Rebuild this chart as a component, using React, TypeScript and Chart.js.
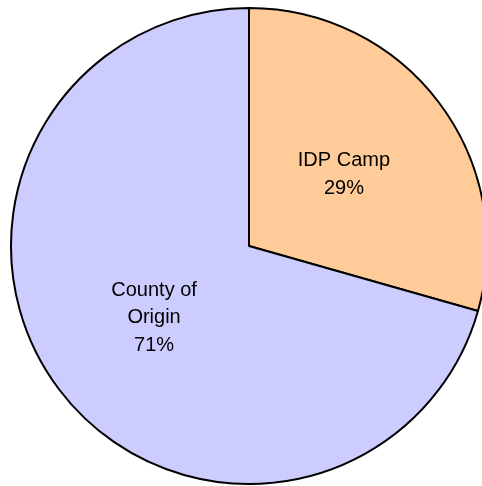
import React, { useEffect, useRef } from "react";
import { Chart, registerables } from "chart.js";

Chart.register(...registerables);

const categories: string[][] = [["IDP Camp"], ["County of", "Origin"]];
const values: number[] = [29.4, 70.6];
const percentLabels: string[] = ["29%", "71%"];
const colors: string[] = ["#FFCC99", "#CCCCFF"];

const labelPlugin = {
  id: "sliceLabels",
  afterDatasetsDraw(chart: any) {
    const ctx = chart.ctx;
    const meta = chart.getDatasetMeta(0);
    ctx.save();
    ctx.font = '20px "Liberation Sans", Arial, sans-serif';
    ctx.fillStyle = "#000000";
    ctx.textAlign = "center";
    ctx.textBaseline = "middle";
    const lh = 27.5;
    meta.data.forEach((arc: any, i: number) => {
      const pos = arc.tooltipPosition();
      const lines = [...categories[i], percentLabels[i]];
      const startY = pos.y - ((lines.length - 1) * lh) / 2;
      lines.forEach((t, j) => ctx.fillText(t, pos.x, startY + j * lh));
    });
    ctx.restore();
  },
};

export default function App() {
  const ref = useRef<HTMLCanvasElement>(null);
  useEffect(() => {
    if (!ref.current) return;
    const chart = new Chart(ref.current, {
      type: "pie",
      data: {
        labels: categories.map((c) => c.join(" ")),
        datasets: [
          {
            data: values,
            backgroundColor: colors,
            borderColor: "#000000",
            borderWidth: 2,
            radius: 238,
            clip: false,
          } as any,
        ],
      },
      options: {
        responsive: false,
        animation: false,
        layout: { padding: { left: 16, top: 6, right: 0, bottom: 0 } },
        plugins: {
          legend: { display: false },
          tooltip: { enabled: false },
        },
      },
      plugins: [labelPlugin],
    });
    return () => chart.destroy();
  }, []);
  return (
    <div style={{ position: "fixed", left: 0, top: 0, width: 482, height: 486, background: "#ffffff" }}>
      <canvas ref={ref} width={482} height={486} style={{ width: 482, height: 486, display: "block" }} />
    </div>
  );
}
